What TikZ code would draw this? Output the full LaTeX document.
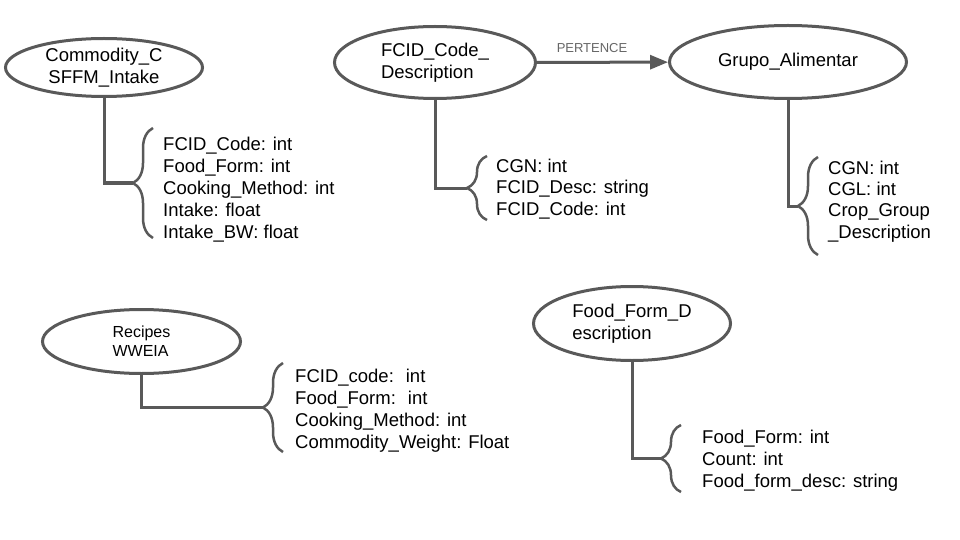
\documentclass[tikz,border=0pt]{standalone}
\usepackage{fontspec}
\setmainfont{Liberation Sans}
\usepackage{xcolor}
\usetikzlibrary{shapes.geometric,arrows.meta,decorations.pathreplacing}
\definecolor{linegray}{HTML}{595959}
\definecolor{relgray}{HTML}{666666}

\begin{document}
\begin{tikzpicture}[x=1pt,y=-1pt,
		entity/.style={ellipse, draw=linegray, line width=3pt, inner sep=0pt, font=\fontsize{18.5}{22}\selectfont},
		attr/.style={anchor=north west, inner sep=0pt, align=left, font=\fontsize{18.5}{22}\selectfont},
		link/.style={draw=linegray, line width=3pt},
		curly/.style={draw=linegray, line width=2.5pt, decorate, decoration={brace, amplitude=20pt}},
		rel/.style={font=\fontsize{13}{15}\selectfont, text=relgray, anchor=base, inner sep=0pt, yshift=9.5pt, pos=0.42}
		]
		\useasboundingbox (0,0) rectangle (960,540);

		\node[entity, align=center, minimum width=197pt, minimum height=58pt] (commodity) at (104,67.5) {Commodity\_C\\SFFM\_Intake};
		\node[entity, align=left, minimum width=201pt, minimum height=72pt] (fcid) at (435,62.5) {FCID\_Code\_\\Description};
		\node[entity, minimum width=237pt, minimum height=73pt] (grupo) at (788,62) {Grupo\_Alimentar};
		\node[entity, align=left, minimum width=198pt, minimum height=64pt, font=\fontsize{16}{19}\selectfont] (recipes) at (141.5,341.5) {Recipes\\WWEIA};
		\node[entity, align=left, minimum width=197pt, minimum height=74pt] (foodform) at (632,323.5) {Food\_Form\_D\\escription};

		\draw[link, -{Triangle[length=18pt, width=14pt]}] (fcid) -- node[rel] (pertence) {PERTENCE} (grupo);

		\coordinate (commodity-tip) at (133,183);
		\coordinate (fcid-tip) at (467,188);
		\coordinate (grupo-tip) at (798,206);
		\coordinate (recipes-tip) at (263,407.5);
		\coordinate (foodform-tip) at (661,458.5);

		\draw[link] (commodity.south) |- (commodity-tip);
		\draw[link] (fcid.south) |- (fcid-tip);
		\draw[link] (grupo.south) |- (grupo-tip);
		\draw[link] (recipes.south) |- (recipes-tip);
		\draw[link] (foodform.south) |- (foodform-tip);

		\draw[curly] (153,238) -- (153,128);
		\draw[curly] (487,220) -- (487,156);
		\draw[curly] (818,255) -- (818,157);
		\draw[curly] (283,452) -- (283,363);
		\draw[curly] (681,492) -- (681,425);

		\node[attr] (commodity-attr) at (163,136.6) {FCID\_Code: int\\Food\_Form: int\\Cooking\_Method: int\\Intake: float\\Intake\_BW: float};
		\node[attr, font=\fontsize{18.5}{21.5}\selectfont] (fcid-attr) at (496,158.6) {CGN: int\\FCID\_Desc: string\\FCID\_Code: int};
		\node[attr, font=\fontsize{18.5}{21.3}\selectfont] (grupo-attr) at (828,160.6) {CGN: int\\CGL: int\\Crop\_Group\\\_Description};
		\node[attr] (recipes-attr) at (295,368.6) {FCID\_code:~ int\\Food\_Form:~ int\\Cooking\_Method: int\\Commodity\_Weight: Float};
		\node[attr] (foodform-attr) at (702,429.6) {Food\_Form: int\\Count: int\\Food\_form\_desc: string};
\end{tikzpicture}
\end{document}
